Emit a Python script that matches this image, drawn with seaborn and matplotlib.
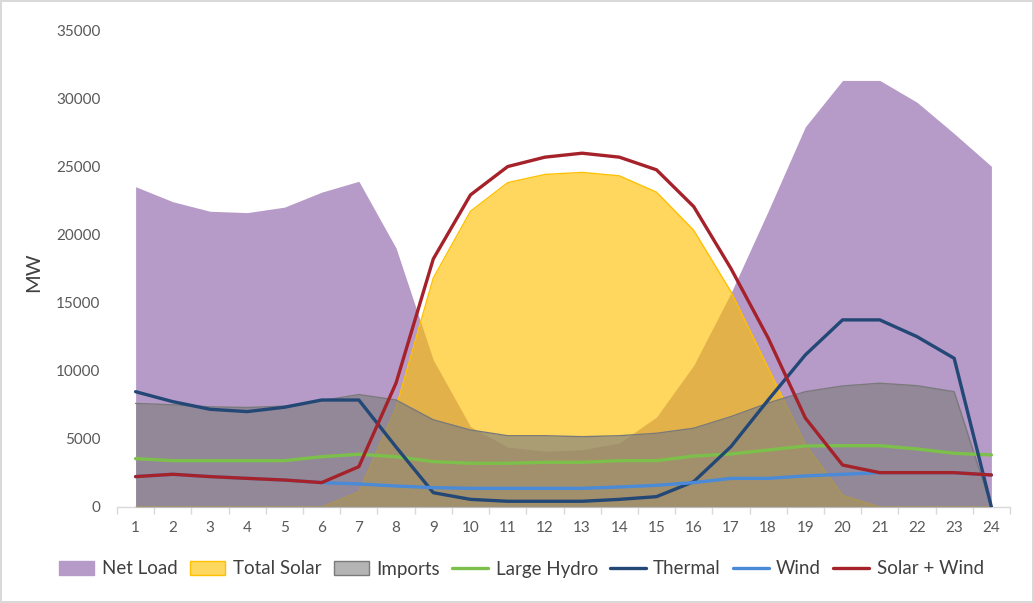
import matplotlib
matplotlib.use("Agg")
import numpy as np
import pandas as pd
import matplotlib.pyplot as plt
import seaborn as sns
from matplotlib.patches import Patch
from matplotlib.lines import Line2D

# Hourly supply profile (MW)
hours = list(range(1, 25))
net_load = [23500, 22400, 21700, 21600, 22000, 23100, 23900, 19000, 10800, 5900,
            4400, 4100, 4200, 4700, 6600, 10400, 15700, 21700, 27900, 31300,
            31300, 29700, 27400, 25000]
total_solar = [0, 0, 0, 0, 0, 0, 1100, 7300, 16800, 21700, 23800, 24400, 24550,
               24300, 23100, 20300, 15800, 10200, 4600, 850, 0, 0, 0, 0]
imports = [7600, 7500, 7350, 7300, 7400, 7800, 8250, 7850, 6400, 5650, 5230, 5230,
           5160, 5230, 5410, 5780, 6630, 7630, 8460, 8880, 9080, 8900, 8460, 0]
large_hydro = [3550, 3400, 3400, 3400, 3400, 3690, 3870, 3690, 3330, 3210, 3210,
               3280, 3280, 3400, 3400, 3740, 3890, 4180, 4480, 4500, 4500, 4260,
               3940, 3820]
thermal = [8460, 7730, 7170, 7000, 7320, 7850, 7850, 4400, 1050, 560, 420, 420,
           420, 560, 760, 1860, 4430, 7850, 11160, 13730, 13730, 12500, 10910, 0]
wind = [2230, 2400, 2230, 2100, 1980, 1790, 1690, 1540, 1420, 1370, 1370, 1370,
        1370, 1470, 1590, 1790, 2100, 2100, 2280, 2400, 2520, 2520, 2520, 2350]
solar_wind = [2230, 2400, 2230, 2100, 1980, 1790, 2960, 9100, 18200, 22900, 24980,
              25670, 25960, 25670, 24740, 22040, 17500, 12400, 6530, 3080, 2520,
              2520, 2520, 2350]
y_ticks = [0, 5000, 10000, 15000, 20000, 25000, 30000, 35000]

area_colors = {"Net Load": "#b69ac8", "Total Solar": "#ffc000", "Imports": "#7f7f7f"}
line_colors = {"Large Hydro": "#7cc04b", "Thermal": "#234876",
               "Wind": "#4a8ad6", "Solar + Wind": "#a5222a"}

lines_df = pd.DataFrame({
    "hour": hours * 4,
    "MW": large_hydro + thermal + wind + solar_wind,
    "series": (["Large Hydro"] * 24 + ["Thermal"] * 24 + ["Wind"] * 24
               + ["Solar + Wind"] * 24),
})

sns.set_theme(style="white")
plt.rcParams["font.family"] = ["Lato", "DejaVu Sans"]

fig = plt.figure(figsize=(10.34, 6.03), dpi=100, facecolor="white",
                 edgecolor="#d9d9d9", linewidth=1.5)
ax = fig.add_axes([117 / 1034, 1 - 507 / 603, (1010 - 117) / 1034, (507 - 30) / 603])

# Area series drawn back to front, each from zero
ax.fill_between(hours, net_load, 0, color=area_colors["Net Load"], lw=0, zorder=1)
ax.fill_between(hours, total_solar, 0, color=area_colors["Total Solar"], alpha=0.63,
                lw=0, zorder=2)
ax.plot(hours, total_solar, color="#ffc000", lw=1.0, zorder=2.1)
ax.fill_between(hours, imports, 0, color=area_colors["Imports"], alpha=0.65,
                lw=0, zorder=3)
ax.plot(hours, imports, color="#7a7a7a", lw=1.0, zorder=3.1)

sns.lineplot(data=lines_df, x="hour", y="MW", hue="series", palette=line_colors,
             hue_order=["Large Hydro", "Thermal", "Wind", "Solar + Wind"],
             linewidth=2.4, ax=ax, legend=False, zorder=5)

ax.set_xlim(0.5, 24.5)
ax.set_ylim(0, 35000)
ax.set_yticks(y_ticks)
ax.set_yticklabels([str(v) for v in y_ticks])
ax.set_xticks(hours)
ax.set_xticks(np.arange(0.5, 25, 1.0), minor=True)
ax.tick_params(axis="x", which="major", length=0, pad=10, labelsize=11,
               labelcolor="#595959")
ax.tick_params(axis="x", which="minor", length=5, width=1, color="#d9d9d9",
               direction="out", bottom=True)
ax.tick_params(axis="y", length=0, pad=12, labelsize=11, labelcolor="#595959")
ax.set_xlabel("")
ax.set_ylabel("MW", fontsize=14.5, color="#404040")
ax.yaxis.set_label_coords((42 - 117) / 893, (507 - 272) / 477)
for side in ["top", "right", "left"]:
    ax.spines[side].set_visible(False)
ax.spines["bottom"].set_color("#d9d9d9")
ax.spines["bottom"].set_linewidth(1.0)
ax.grid(False)

handles = [
    Patch(facecolor="#b69ac8", edgecolor="#b69ac8", label="Net Load"),
    Patch(facecolor="#fed75f", edgecolor="#ffc000", label="Total Solar"),
    Patch(facecolor="#b4b4b4", edgecolor="#7a7a7a", label="Imports"),
    Line2D([], [], color=line_colors["Large Hydro"], lw=2.4, label="Large Hydro"),
    Line2D([], [], color=line_colors["Thermal"], lw=2.4, label="Thermal"),
    Line2D([], [], color=line_colors["Wind"], lw=2.4, label="Wind"),
    Line2D([], [], color=line_colors["Solar + Wind"], lw=2.4, label="Solar + Wind"),
]
fig.legend(handles=handles, loc="center", bbox_to_anchor=(0.504, 1 - 569 / 603),
           ncol=7, frameon=False, fontsize=13.5, handlelength=1.9, handleheight=0.85,
           handletextpad=0.4, columnspacing=0.65, labelcolor="#404040")

fig.savefig("out.png", dpi=100, facecolor=fig.get_facecolor(),
            edgecolor=fig.get_edgecolor())
